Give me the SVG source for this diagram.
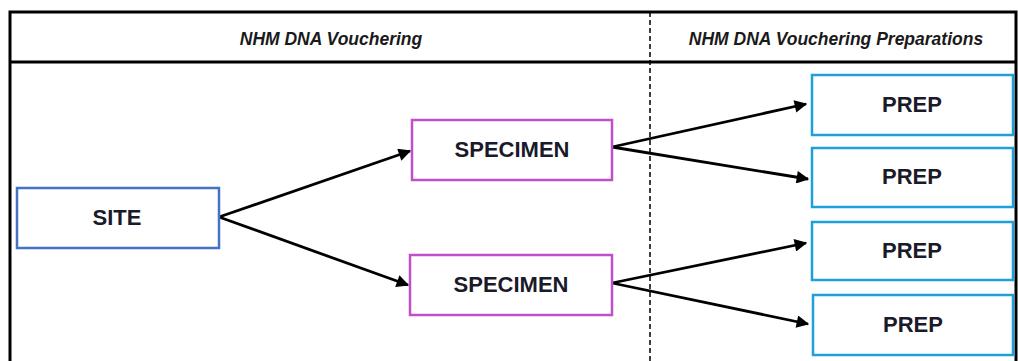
<svg xmlns="http://www.w3.org/2000/svg" width="1018" height="361" viewBox="0 0 1018 361">
<style>
.hdr{font-family:"Liberation Sans",Arial,sans-serif;font-size:17.5px;font-style:italic;font-weight:bold;fill:#1a1a1a;text-anchor:middle}
.lbl{font-family:"Liberation Sans",Arial,sans-serif;font-size:22px;font-weight:bold;fill:#1a1a2a;text-anchor:middle}
.site{fill:#fff;stroke:#4472C4;stroke-width:2.5}
.spec{fill:#fff;stroke:#C050C8;stroke-width:2.5}
.prep{fill:#fff;stroke:#1FA0D8;stroke-width:2.5}
.conn{stroke:#000;stroke-width:2.8;fill:none;marker-end:url(#ah)}
</style>
<defs>
<marker id="ah" viewBox="0 0 10 10" refX="9" refY="5" markerWidth="5" markerHeight="4.5" orient="auto" markerUnits="strokeWidth">
<path d="M0,0 L10,5 L0,10 z" fill="#000"/>
</marker>
</defs>
<rect width="1018" height="361" fill="#fff"/>
<g id="frame">
<path d="M10,361 V12 H1016 V361" fill="none" stroke="#000" stroke-width="3"/>
<line x1="10" y1="62" x2="1016" y2="62" stroke="#000" stroke-width="3"/>
<line x1="650" y1="12" x2="650" y2="361" stroke="#000" stroke-width="1.5" stroke-dasharray="5,3"/>
<text class="hdr" x="331" y="45">NHM DNA Vouchering</text>
<text class="hdr" x="836" y="45">NHM DNA Vouchering Preparations</text>
</g>
<g id="connectors">
<line class="conn" x1="219" y1="217" x2="410" y2="151"/>
<line class="conn" x1="219" y1="217" x2="408" y2="285"/>
<line class="conn" x1="612" y1="147" x2="806" y2="104"/>
<line class="conn" x1="612" y1="147" x2="808" y2="179"/>
<line class="conn" x1="612" y1="283" x2="806" y2="243"/>
<line class="conn" x1="612" y1="283" x2="808" y2="324"/>
</g>
<g id="site"><rect class="site" x="17" y="188" width="202" height="60"/><text class="lbl" x="117" y="225">SITE</text></g>
<g id="specimen1"><rect class="spec" x="412" y="120" width="200" height="60"/><text class="lbl" x="512" y="157">SPECIMEN</text></g>
<g id="specimen2"><rect class="spec" x="410" y="255" width="202" height="60"/><text class="lbl" x="511" y="292">SPECIMEN</text></g>
<g id="prep1"><rect class="prep" x="812" y="75" width="201" height="60"/><text class="lbl" x="912" y="112">PREP</text></g>
<g id="prep2"><rect class="prep" x="812" y="148" width="201" height="59"/><text class="lbl" x="912" y="184">PREP</text></g>
<g id="prep3"><rect class="prep" x="812" y="222" width="201" height="58"/><text class="lbl" x="912" y="258">PREP</text></g>
<g id="prep4"><rect class="prep" x="813" y="295" width="200" height="60"/><text class="lbl" x="913" y="332">PREP</text></g>
</svg>
